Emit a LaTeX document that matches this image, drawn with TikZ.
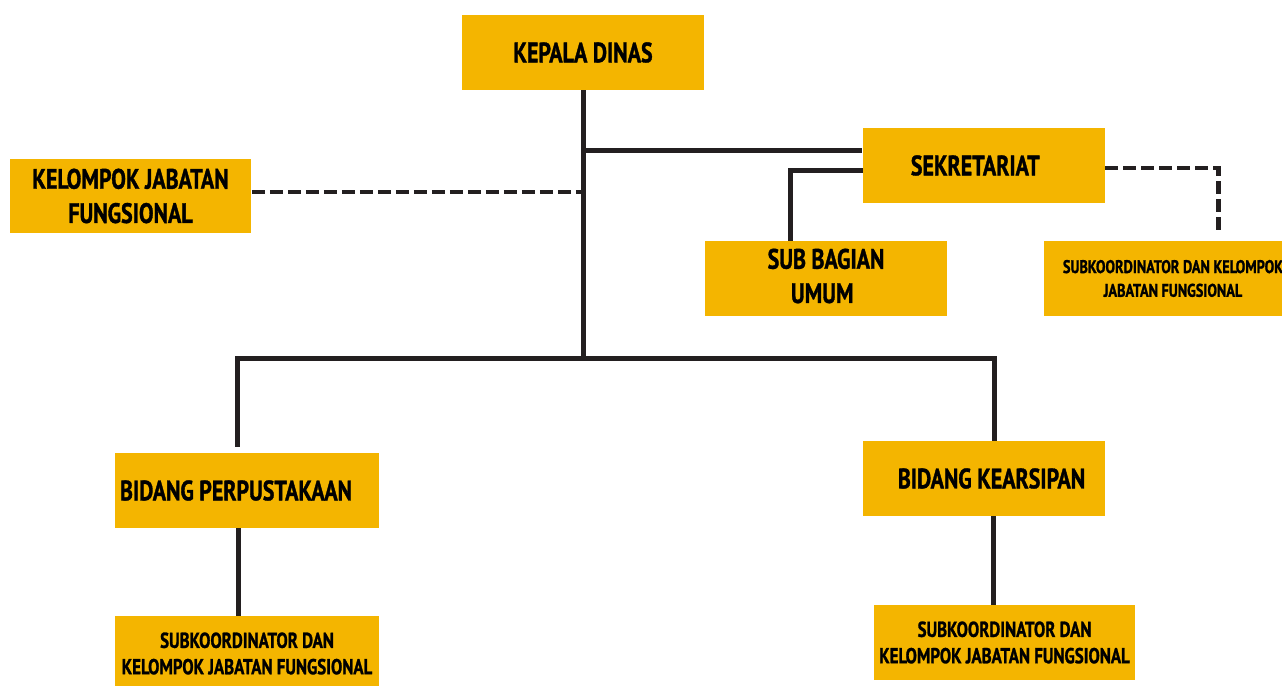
\documentclass[tikz,border=0pt]{standalone}
\usepackage{fontspec}
\setmainfont{PT Sans}[FakeStretch=0.78, BoldFeatures={FakeBold=1.2}]
\usepackage{xcolor}
\usetikzlibrary{positioning}
\definecolor{boxyellow}{RGB}{244, 181, 0}
\definecolor{linedark}{RGB}{35, 31, 32}
\tikzset{
    unit/.style={fill=boxyellow, minimum width=4.84cm, minimum height=1.5cm, inner sep=0pt, font=\bfseries\fontsize{16}{19.5}\selectfont, align=center},
    subunit/.style={unit, font=\bfseries\fontsize{12.3}{15}\selectfont},
    solidline/.style={line width=0.1cm, draw=linedark},
    dashline/.style={solidline, dash pattern=on 0.26cm off 0.1cm}
}

\begin{document}
\begin{tikzpicture}[x=0.02cm, y=-0.02cm]
    \useasboundingbox (0, 0) rectangle (1282, 686);

    \node[unit] (kepala) at (583, 52.5) {KEPALA DINAS};
    \node[unit] (kjf) at (130.5, 196) {KELOMPOK JABATAN\\FUNGSIONAL};
    \node[unit] (sekretariat) at (984, 165.5) {SEKRETARIAT\hspace{0.35cm}};
    \node[unit] (umum) at (826, 278.5) {SUB BAGIAN\\UMUM\hspace{0.15cm}\vspace{0.1cm}};
    \node[subunit, minimum width=5.16cm, font=\bfseries\fontsize{10.4}{13.5}\selectfont] (subsekretariat) at (1173, 278.5) {SUBKOORDINATOR DAN KELOMPOK\\JABATAN FUNGSIONAL};
    \node[unit, minimum width=5.28cm] (perpustakaan) at (247, 490.5) {BIDANG PERPUSTAKAAN\hspace{0.44cm}};
    \node[subunit, minimum width=5.28cm] (subperpustakaan) at (247, 653.5) {SUBKOORDINATOR DAN\\KELOMPOK JABATAN FUNGSIONAL};
    \node[unit] (kearsipan) at (984, 478.5) {\hspace{0.3cm}BIDANG KEARSIPAN};
    \node[subunit, minimum width=5.22cm] (subkearsipan) at (1004.5, 642.5) {SUBKOORDINATOR DAN\\KELOMPOK JABATAN FUNGSIONAL};

    % trunk and bus
    \coordinate (bus) at (583, 358);
    \coordinate (busleft) at (237, 358);
    \coordinate (busright) at (994, 358);
    \draw[solidline] (kepala.south) -- (bus);
    \draw[solidline, line cap=rect] (busleft) -- (busright);
    \draw[solidline] (kepala.south |- sekretariat.west) ++(0, -15) -- ++(279, 0);
    \draw[dashline] (kjf.east) ++(0, -4) -- (583, 192);

    % sekretariat
    \draw[solidline] (sekretariat.west) ++(0, 5) -| (umum.north -| 790, 0);
    \draw[dashline] (sekretariat.east) ++(0, 2.5) -| (1218, 233);

    % bidang
    \draw[solidline] (busleft) -- (237, 447);
    \draw[solidline] (busright) -- (kearsipan.north -| busright);
    \draw[solidline] (perpustakaan.south -| 238, 0) -- (subperpustakaan.north -| 238, 0);
    \draw[solidline] (kearsipan.south -| 993, 0) -- (subkearsipan.north -| 993, 0);
\end{tikzpicture}
\end{document}
